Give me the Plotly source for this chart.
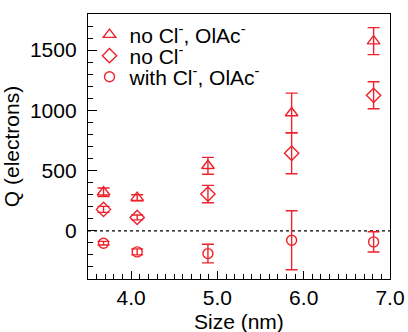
import plotly.graph_objects as go

# Nanocrystal size (nm) and charge Q (electrons) for the three ligand conditions
size_nm = [3.68, 4.07, 4.89, 5.86, 6.81]

q_no_cl_olac = [320, 275, 540, 978, 1575]
err_no_cl_olac = [35, 25, 70, 165, 112]

q_no_cl = [178, 111, 305, 644, 1125]
err_no_cl = [25, 20, 72, 170, 112]

q_with_cl_olac = [-103, -175, -189, -78, -92]
err_with_cl_olac = [15, 25, 77, 245, 84]

series_names = [
    "no Cl<sup>-</sup>, OlAc<sup>-</sup>",
    "no Cl<sup>-</sup>",
    "with Cl<sup>-</sup>, OlAc<sup>-</sup>",
]

RED = "rgb(238,34,44)"
FONT = "Arial, Liberation Sans, sans-serif"
FS = 21

fig = go.Figure()

series = [
    (q_no_cl_olac, err_no_cl_olac, "triangle-up-open", 11, "legend"),
    (q_no_cl, err_no_cl, "diamond-open", 11, "legend2"),
    (q_with_cl_olac, err_with_cl_olac, "circle-open", 10, "legend3"),
]
for name, (vals, errs, sym, msize, leg) in zip(series_names, series):
    fig.add_trace(go.Scatter(
        x=size_nm, y=vals, name=name, mode="markers", legend=leg,
        marker=dict(symbol=sym, size=msize, color=RED, line=dict(width=1.4, color=RED)),
        error_y=dict(type="data", array=errs, visible=True, color=RED,
                     thickness=1.4, width=6),
    ))

# dotted reference line at Q = 0
fig.add_shape(type="line", xref="paper", x0=0, x1=1, yref="y", y0=0, y1=0,
              line=dict(color="black", width=1.3, dash="dot"), layer="below")

axis_common = dict(
    showline=True, linecolor="black", linewidth=1.4, mirror=True,
    ticks="inside", tickcolor="black", tickwidth=1.2,
    showgrid=False, zeroline=False, automargin=False,
    tickfont=dict(family=FONT, size=FS, color="black"),
)

fig.update_xaxes(
    **axis_common,
    range=[3.5, 7.0], tickvals=[4.0, 5.0, 6.0, 7.0],
    ticktext=["4.0", "5.0", "6.0", "7.0"], ticklen=8,
    minor=dict(dtick=0.1, tick0=3.5, ticks="inside", ticklen=5,
               tickcolor="black", tickwidth=1.2, showgrid=False),
    ticklabelstandoff=0,
)
fig.update_yaxes(
    **axis_common,
    range=[-400, 1800], tickvals=[0, 500, 1000, 1500], ticklen=9,
    minor=dict(dtick=100, tick0=0, ticks="inside", ticklen=5,
               tickcolor="black", tickwidth=1.2, showgrid=False),
    title=dict(text="Q (electrons)", font=dict(family=FONT, size=FS, color="black"),
               standoff=6),
    ticklabelstandoff=6,
)

# x-axis label, set along the bottom edge below the tick labels
fig.add_annotation(text="Size (nm)", xref="paper", yref="paper", x=0.5, y=-0.206,
                   xanchor="center", yanchor="bottom", showarrow=False,
                   borderpad=0,
                   font=dict(family=FONT, size=FS, color="black"))

legend_style = dict(x=0.005, xanchor="left", yanchor="middle",
                    bgcolor="rgba(0,0,0,0)", itemsizing="trace",
                    font=dict(family=FONT, size=FS, color="black"))

fig.update_layout(
    width=408, height=332,
    margin=dict(l=88, r=18, t=14, b=53),
    paper_bgcolor="white", plot_bgcolor="white",
    showlegend=True,
    legend=dict(y=0.921, **legend_style),
    legend2=dict(y=0.8415, **legend_style),
    legend3=dict(y=0.762, **legend_style),
)

fig.write_html("out.html")
